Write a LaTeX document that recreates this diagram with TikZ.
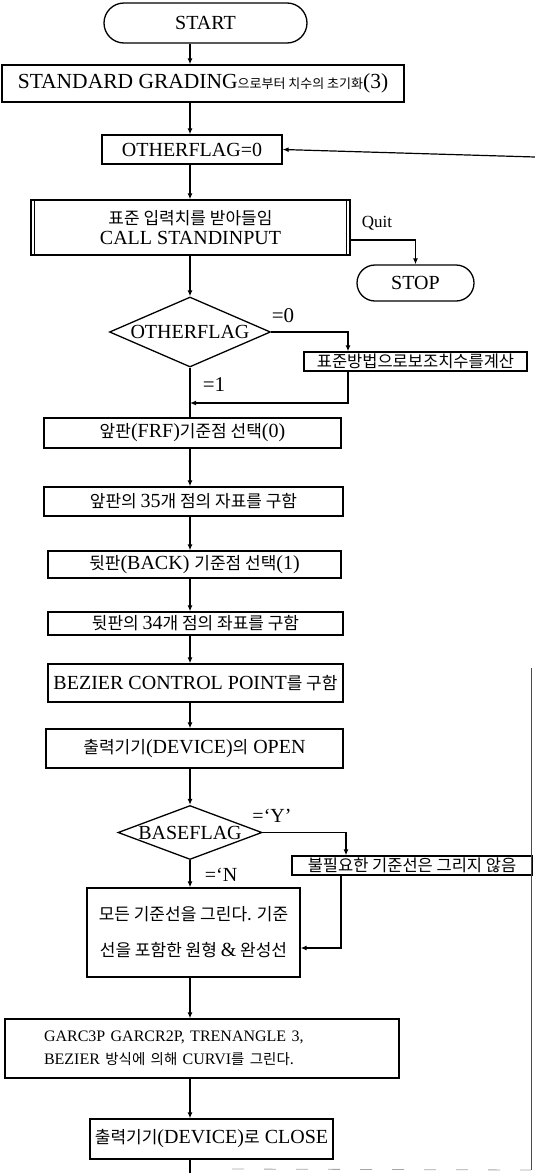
\documentclass[tikz,border=0pt]{standalone}
\usepackage{fontspec}
\setmainfont{Liberation Serif}
\newfontfamily\krfont{Noto Sans CJK KR}
\usetikzlibrary{shapes.geometric,shapes.misc,arrows.meta}
\newcommand\hk[1]{{\krfont\fontsize{17}{19}\selectfont #1}}
\newcommand\hkn[1]{{\krfont\fontsize{16.5}{19}\selectfont #1}}
\newcommand\hks[1]{{\krfont\fontsize{13}{15}\selectfont #1}}
\newcommand\hkm[1]{{\krfont\fontsize{14.5}{16}\selectfont #1}}
\begin{document}
\begin{tikzpicture}[x=1pt,y=-1pt,
  box/.style={draw, line width=1.3pt, inner sep=0pt, font=\fontsize{20}{22}\selectfont, align=center},
  term/.style={box, rounded rectangle},
  dec/.style={box, diamond},
  conn/.style={line width=1.2pt},
  arr/.style={conn, -{Latex[length=6pt,width=5pt]}},
  lbl/.style={font=\fontsize{20}{22}\selectfont, inner sep=0pt}
]
\useasboundingbox (0,0) rectangle (535,1173);
\coordinate (mx) at (190,0);

\node[term, minimum width=203pt, minimum height=40pt] (start) at (205.5,23) {START};
\node[box, minimum width=402pt, minimum height=37pt, font=\fontsize{21.5}{24}\selectfont] (grade) at (203,83.5) {STANDARD GRADING\hks{으로부터 치수의 초기화}(3)};
\node[box, minimum width=180pt, minimum height=29pt] (of0) at (192,149.5) {OTHERFLAG=0};
\node[box, minimum width=319pt, minimum height=55pt] (inp) at (190.5,227.5) {\hk{표준 입력치를 받아들임}\\[-2pt]CALL STANDINPUT};
\draw[line width=1.2pt] ([xshift=4pt]inp.north west) -- ([xshift=4pt]inp.south west);
\draw[line width=1.2pt] ([xshift=-4pt]inp.north east) -- ([xshift=-4pt]inp.south east);
\node[lbl, font=\fontsize{17}{20}\selectfont] (quit) at (377,223) {Quit};
\node[term, minimum width=117pt, minimum height=36pt] (stop) at (415.5,283) {STOP};
\node[dec, aspect=2.3, minimum width=161pt, minimum height=70pt] (ofd) at (190,332) {OTHERFLAG};
\node[lbl, font=\fontsize{21}{22}\selectfont] (l0) at (283,316) {=0};
\node[box, minimum width=223pt, minimum height=19pt] (std2) at (415.5,361.5) {\hkn{표준방법으로보조치수를계산}};
\node[lbl, font=\fontsize{21}{22}\selectfont] (l1) at (214,385) {=1};
\coordinate (j1) at (190,403);
\node[box, minimum width=297pt, minimum height=30pt] (fp) at (192.5,433) {\hk{앞판}(FRF)\hk{기준점 선택}(0)};
\node[box, minimum width=299pt, minimum height=29pt] (fp35) at (193.5,501.5) {\hk{앞판의 }35\hk{개 점의 자표를 구함}};
\node[box, minimum width=293pt, minimum height=27pt] (bp) at (194.5,564.5) {\hk{뒷판}(BACK) \hk{기준점 선택}(1)};
\node[box, minimum width=295pt, minimum height=23pt] (bp34) at (195.5,623.5) {\hk{뒷판의 }34\hk{개 점의 좌표를 구함}};
\node[box, minimum width=295pt, minimum height=38pt] (bez) at (195.5,683) {BEZIER CONTROL POINT\hk{를 구함}};
\node[box, minimum width=297pt, minimum height=39pt] (open) at (194.5,748.5) {\hk{출력기기}(DEVICE)\hk{의} OPEN};
\node[dec, aspect=2.67, minimum width=144pt, minimum height=54pt] (bfd) at (190,832.5) {BASEFLAG};
\node[lbl] (ly) at (272,816) {=`Y'};
\node[box, minimum width=240pt, minimum height=19pt] (nb) at (412,865.5) {\hkn{불필요한 기준선은 그리지 않음}};
\node[lbl] (ln) at (221,875) {=`N};
\node[box, minimum width=213pt, minimum height=89pt] (all) at (193.5,932.5) {\hk{모든 기준선을 그린다. 기준}\\[14pt]\hk{선을 포함한 원형 }\&\hk{ 완성선}};
\node[box, minimum width=394pt, minimum height=59pt, text width=316pt, align=left, font=\fontsize{16}{23.5}\selectfont] (garc) at (202,1048.5) {GARC3P GARCR2P, TRENANGLE 3,\\BEZIER \hkm{방식에 의해} CURVI\hkm{를 그린다.}};
\node[box, minimum width=243pt, minimum height=40pt] (close) at (211.5,1139) {\hk{출력기기}(DEVICE)\hk{로} CLOSE};

\coordinate (bot) at (190,1173);
\coordinate (rt) at (535,157);
\coordinate (r1) at (531,668);
\coordinate (r2) at (531,1170);
\coordinate (b1) at (232,1169);

\draw[arr] (start.south -| mx) -- (grade.north -| mx);
\draw[arr] (grade.south -| mx) -- (of0.north -| mx);
\draw[arr] (of0.south -| mx) -- (inp.north -| mx);
\draw[arr] (inp.south -| mx) -- (ofd.north);
\draw[arr] ([yshift=-12.5pt]inp.east) -| (stop.north);
\draw[arr] (ofd.east) -| ([xshift=-67.5pt]std2.north);
\draw[conn] (ofd.south) -- (fp.north -| mx);
\draw[arr] ([xshift=-67.5pt]std2.south) |- (j1);
\draw[arr] (fp.south -| mx) -- (fp35.north -| mx);
\draw[arr] (fp35.south -| mx) -- (bp.north -| mx);
\draw[arr] (bp.south -| mx) -- (bp34.north -| mx);
\draw[arr] (bp34.south -| mx) -- (bez.north -| mx);
\draw[arr] (bez.south -| mx) -- (open.north -| mx);
\draw[arr] (open.south -| mx) -- (bfd.north);
\draw[arr] (bfd.east) -| ([xshift=-66pt]nb.north);
\draw[arr] (bfd.south) -- (all.north -| mx);
\draw[arr] ([xshift=-71pt]nb.south) |- ([yshift=-15.5pt]all.east);
\draw[arr] (all.south -| mx) -- (garc.north -| mx);
\draw[arr] (garc.south -| mx) -- (close.north -| mx);
\draw[conn] (close.south -| mx) -- (bot);
\draw[arr] (rt) -- (of0.east);
\draw[conn, line width=0.8pt, black!70] (r1) -- (r2);
\draw[line width=0.8pt, black!35, dashed, dash pattern=on 12pt off 20pt] (b1) -- (r2);
\end{tikzpicture}
\end{document}
